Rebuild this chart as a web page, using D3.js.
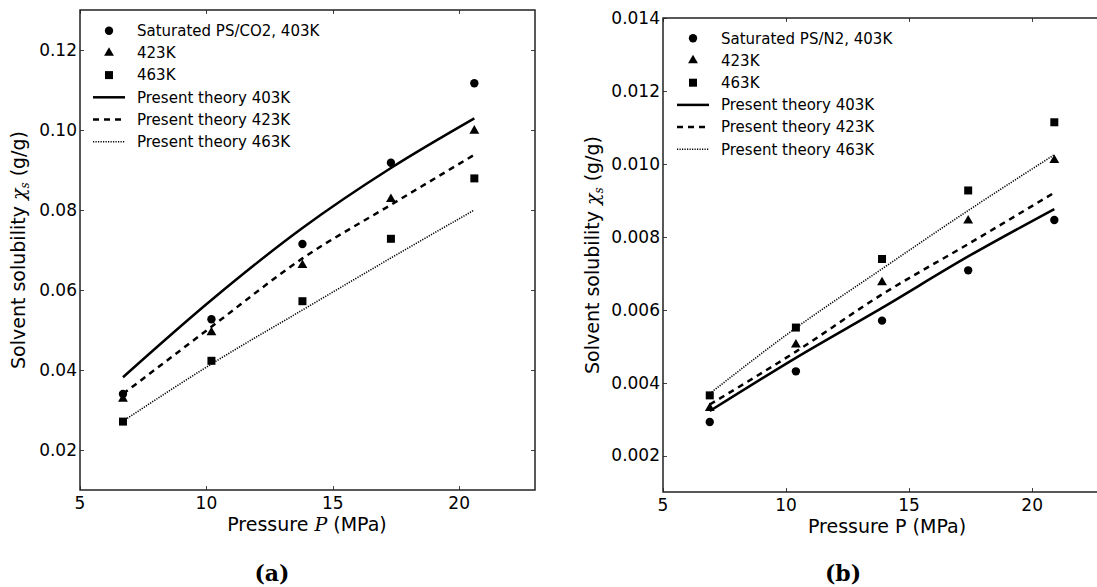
<!DOCTYPE html>
<html>
<head>
<meta charset="utf-8">
<script src="https://cdn.jsdelivr.net/npm/d3@7"></script>
<style>
  body { margin: 0; background: #fff; }
  text { font-family: "DejaVu Sans", sans-serif; fill: #000; }
  .frame { fill: none; stroke: #222; stroke-width: 1.5; }
  .tick-mark { stroke: #444; stroke-width: 1; }
</style>
</head>
<body>
<svg id="chart" width="1097" height="587"></svg>
<script>
// pressures (MPa) for each panel
var pressureA = [6.7, 10.2, 13.8, 17.3, 20.6];
var pressureB = [6.9, 10.4, 13.9, 17.4, 20.9];

// panel (a): PS/CO2 measured
var co2_403 = [0.0340, 0.0527, 0.0715, 0.0918, 0.1117];
var co2_423 = [0.0328, 0.0494, 0.0662, 0.0827, 0.0998];
var co2_463 = [0.0271, 0.0423, 0.0572, 0.0728, 0.0879];
// panel (a): theory curves
var co2Theory403 = [0.0382, 0.0575, 0.0755, 0.0905, 0.1029];
var co2Theory423 = [0.0340, 0.0508, 0.0679, 0.0813, 0.0938];
var co2Theory463 = [0.0272, 0.0415, 0.0550, 0.0680, 0.0800];

// panel (b): PS/N2 measured
var n2_403 = [0.00292, 0.00431, 0.00570, 0.00708, 0.00846];
var n2_423 = [0.00330, 0.00504, 0.00675, 0.00844, 0.01010];
var n2_463 = [0.00365, 0.00551, 0.00739, 0.00927, 0.01114];
// panel (b): theory lines
var n2Theory403 = [0.00322, 0.00468, 0.00605, 0.00746, 0.00876];
var n2Theory423 = [0.00340, 0.00485, 0.00642, 0.00780, 0.00921];
var n2Theory463 = [0.00370, 0.00550, 0.00712, 0.00872, 0.01025];

var xTicks = [5, 10, 15, 20];
var yTicksA = [0.02, 0.04, 0.06, 0.08, 0.10, 0.12];
var yTicksB = [0.002, 0.004, 0.006, 0.008, 0.010, 0.012, 0.014];

var svg = d3.select("#chart");

//draw one panel
function drawPanel(p) {
  var x = d3.scaleLinear().domain(p.xDomain).range([p.left, p.right]);
  var y = d3.scaleLinear().domain(p.yDomain).range([p.bottom, p.top]);
  var g = svg.append("g");

  //tick marks point inward on all four sides
  var tl = 4;
  g.selectAll(".xt").data(p.xTicks).enter().append("path")
    .attr("class", "tick-mark")
    .attr("d", function(d) { var px = Math.round(x(d)) + 0.5;
      return "M" + px + "," + p.bottom + "v-" + tl + "M" + px + "," + p.top + "v" + tl; });
  g.selectAll(".yt").data(p.yTicks).enter().append("path")
    .attr("class", "tick-mark")
    .attr("d", function(d) { var py = Math.round(y(d)) + 0.5;
      return "M" + p.left + "," + py + "h" + tl + "M" + p.right + "," + py + "h-" + tl; });

  g.append("rect")
    .attr("class", "frame")
    .attr("x", p.left).attr("y", p.top)
    .attr("width", p.right - p.left).attr("height", p.bottom - p.top);

  //tick labels
  g.selectAll(".xl").data(p.xTicks).enter().append("text")
    .attr("x", function(d) { return x(d); })
    .attr("y", p.bottom + 19)
    .attr("text-anchor", "middle")
    .style("font-size", "17px")
    .text(function(d) { return d; });
  g.selectAll(".yl").data(p.yTicks).enter().append("text")
    .attr("x", p.left - 3)
    .attr("y", function(d) { return y(d); })
    .attr("dy", "0.35em")
    .attr("text-anchor", "end")
    .style("font-size", "17px")
    .text(d3.format(p.yFormat));

  //lines
  var styles = [
    { dash: null, width: 2.5 },
    { dash: "6,5", width: 2.5 },
    { dash: "1.2,1.3", width: 1.6 }
  ];
  p.theory.forEach(function(vals, i) {
    var line = d3.line()
      .x(function(d, j) { return x(p.pressure[j]); })
      .y(function(d) { return y(d); })
      .curve(d3.curveMonotoneX);
    g.append("path")
      .datum(vals)
      .attr("fill", "none")
      .attr("stroke", "#000")
      .attr("stroke-width", styles[i].width)
      .attr("stroke-dasharray", styles[i].dash)
      .attr("d", line);
  });

  //points
  var symbols = [d3.symbol(d3.symbolCircle, 55), d3.symbol(d3.symbolTriangle, 42), d3.symbol(d3.symbolSquare, 64)];
  p.measured.forEach(function(vals, i) {
    g.selectAll(".pt" + i).data(vals).enter().append("path")
      .attr("transform", function(d, j) { return "translate(" + x(p.pressure[j]) + "," + y(d) + ")"; })
      .attr("d", symbols[i]);
  });

  //legend
  var lx = p.legendX, ly = p.legendY, step = 22.2;
  p.legendLabels.forEach(function(label, i) {
    var yy = ly + i * step;
    if (i < 3) {
      g.append("path")
        .attr("transform", "translate(" + (lx + 16) + "," + yy + ")")
        .attr("d", symbols[i]);
    } else {
      var s = styles[i - 3];
      g.append("line")
        .attr("x1", lx).attr("x2", lx + 32)
        .attr("y1", yy).attr("y2", yy)
        .attr("stroke", "#000")
        .attr("stroke-width", s.width)
        .attr("stroke-dasharray", s.dash);
    }
    g.append("text")
      .attr("x", lx + 44)
      .attr("y", yy)
      .attr("dy", "0.35em")
      .style("font-size", "15px")
      .text(label);
  });

  //x axis label
  var xl = g.append("text")
    .attr("x", p.xLabelX)
    .attr("y", p.bottom + 41)
    .attr("text-anchor", "middle")
    .style("font-size", "19px");
  xl.append("tspan").text("Pressure ");
  if (p.italicP) {
    xl.append("tspan").style("font-family", "DejaVu Serif, serif").style("font-style", "italic").text("P");
    xl.append("tspan").text(" (MPa)");
  } else {
    xl.append("tspan").text("P (MPa)");
  }

  //y axis label
  var yl = g.append("text")
    .attr("transform", "translate(" + p.yLabelX + "," + ((p.top + p.bottom) / 2) + ") rotate(-90)")
    .attr("text-anchor", "middle")
    .style("font-size", "19px");
  yl.append("tspan").text("Solvent solubility ");
  yl.append("tspan").style("font-family", "DejaVu Serif, serif").style("font-style", "italic").text("χ");
  yl.append("tspan").attr("dy", "4").style("font-size", "12px").style("font-family", "DejaVu Serif, serif").style("font-style", "italic").text("s");
  yl.append("tspan").attr("dy", "-4").text("  (g/g)");

  //caption
  svg.append("text")
    .attr("x", p.captionX)
    .attr("y", 581)
    .attr("text-anchor", "middle")
    .style("font-family", "DejaVu Serif, serif")
    .style("font-weight", "bold")
    .style("font-size", "22px")
    .text(p.caption);
}

drawPanel({
  left: 80, right: 535, top: 10, bottom: 490,
  xDomain: [5, 23], yDomain: [0.01, 0.13],
  xTicks: xTicks, yTicks: yTicksA, yFormat: ".2f",
  pressure: pressureA,
  measured: [co2_403, co2_423, co2_463],
  theory: [co2Theory403, co2Theory423, co2Theory463],
  legendX: 93, legendY: 30.7,
  legendLabels: ["Saturated PS/CO2, 403K", "423K", "463K",
    "Present theory 403K", "Present theory 423K", "Present theory 463K"],
  italicP: true, xLabelX: 307, yLabelX: 25,
  caption: "(a)", captionX: 272
});

drawPanel({
  left: 663, right: 1106, top: 18, bottom: 492,
  xDomain: [5, 23], yDomain: [0.001, 0.014],
  xTicks: xTicks, yTicks: yTicksB, yFormat: ".3f",
  pressure: pressureB,
  measured: [n2_403, n2_423, n2_463],
  theory: [n2Theory403, n2Theory423, n2Theory463],
  legendX: 677, legendY: 38.3,
  legendLabels: ["Saturated PS/N2, 403K", "423K", "463K",
    "Present theory 403K", "Present theory 423K", "Present theory 463K"],
  italicP: false, xLabelX: 887, yLabelX: 599,
  caption: "(b)", captionX: 843
});
</script>
</body>
</html>
